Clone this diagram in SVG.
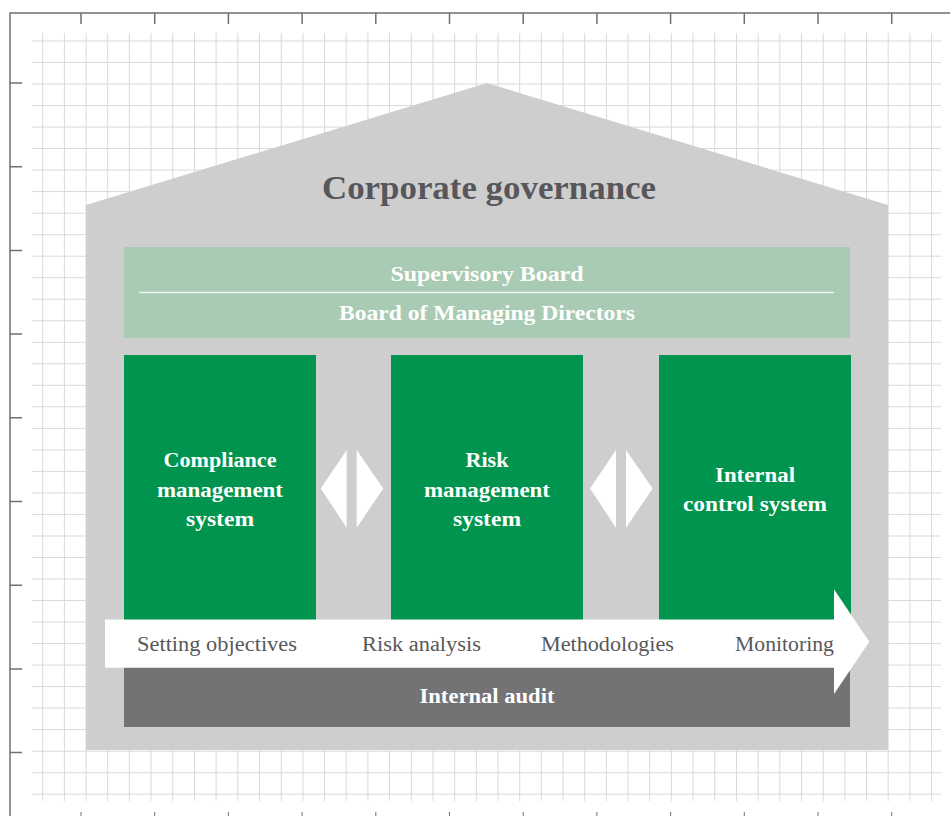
<svg xmlns="http://www.w3.org/2000/svg" width="950" height="816" viewBox="0 0 950 816">
  <style>
    .grid { stroke: #d9d9d9; stroke-width: 1; fill: none; }
    .frame { stroke: #707070; stroke-width: 1.5; fill: none; }
    .title { font-family: "Liberation Serif", "DejaVu Serif", serif; font-weight: bold; fill: #57575b; }
    .head { font-family: "Liberation Serif", "DejaVu Serif", serif; font-weight: bold; fill: #ffffff; text-anchor: middle; }
    .step { font-family: "Liberation Serif", "DejaVu Serif", serif; font-size: 20px; fill: #58585a; text-anchor: middle; }
    .pillar { fill: #00944e; }
  </style>

  <rect x="0" y="0" width="950" height="816" fill="#ffffff"/>

  <!-- background grid -->
  <g id="grid" class="grid">
    <path d="M42.7 33V801M64.4 33V801M86.1 33V801M107.7 33V801M129.4 33V801M151.1 33V801M172.8 33V801M194.5 33V801M216.1 33V801M237.8 33V801M259.5 33V801M281.2 33V801M302.9 33V801M324.5 33V801M346.2 33V801M367.9 33V801M389.6 33V801M411.3 33V801M432.9 33V801M454.6 33V801M476.3 33V801M498 33V801M519.7 33V801M541.3 33V801M563 33V801M584.7 33V801M606.4 33V801M628.1 33V801M649.7 33V801M671.4 33V801M693.1 33V801M714.8 33V801M736.5 33V801M758.1 33V801M779.8 33V801M801.5 33V801M823.2 33V801M844.9 33V801M866.5 33V801M888.2 33V801M909.9 33V801M931.6 33V801"/>
    <path d="M32 41H941M32 62.5H941M32 84H941M32 105.6H941M32 127.1H941M32 148.6H941M32 170.1H941M32 191.6H941M32 213.2H941M32 234.7H941M32 256.2H941M32 277.7H941M32 299.2H941M32 320.8H941M32 342.3H941M32 363.8H941M32 385.3H941M32 406.8H941M32 428.4H941M32 449.9H941M32 471.4H941M32 492.9H941M32 514.4H941M32 536H941M32 557.5H941M32 579H941M32 600.5H941M32 622H941M32 643.6H941M32 665.1H941M32 686.6H941M32 708.1H941M32 729.6H941M32 751.2H941M32 772.7H941M32 794.2H941"/>
  </g>

  <!-- page frame with ticks -->
  <g id="frame" class="frame">
    <path d="M10 816V13H950"/>
    <path d="M81 13V24M154.7 13V24M228.4 13V24M302.1 13V24M375.8 13V24M449.5 13V24M523.2 13V24M596.9 13V24M670.6 13V24M744.3 13V24M818 13V24M891.7 13V24"/>
    <path d="M10 83H22M10 166.7H22M10 250.4H22M10 334.1H22M10 417.8H22M10 501.5H22M10 585.2H22M10 668.9H22M10 752.6H22"/>
    <path d="M81 812V816M154.7 812V816M228.4 812V816M302.1 812V816M375.8 812V816M449.5 812V816M523.2 812V816M596.9 812V816M670.6 812V816M744.3 812V816M818 812V816M891.7 812V816" stroke-width="1"/>
  </g>

  <!-- house outline -->
  <g id="house">
    <polygon points="86,205 487,83 888,205 888,750 86,750" fill="#cececf"/>
    <text class="title" x="489" y="199" font-size="34" text-anchor="middle" textLength="334" lengthAdjust="spacingAndGlyphs">Corporate governance</text>
  </g>

  <!-- boards -->
  <g id="boards">
    <rect x="124" y="247" width="726" height="91" fill="#a9cbb3"/>
    <line x1="139" y1="292.5" x2="834" y2="292.5" stroke="#eef5ef" stroke-width="1.5"/>
    <text class="head" x="487" y="281" font-size="21" textLength="193" lengthAdjust="spacingAndGlyphs">Supervisory Board</text>
    <text class="head" x="487" y="320" font-size="21" textLength="296" lengthAdjust="spacingAndGlyphs">Board of Managing Directors</text>
  </g>

  <!-- pillars -->
  <g id="compliance">
    <rect class="pillar" x="124" y="355" width="192" height="265"/>
    <text class="head" x="220" y="467" font-size="20" textLength="113" lengthAdjust="spacingAndGlyphs">Compliance</text>
    <text class="head" x="220" y="497" font-size="20" textLength="126" lengthAdjust="spacingAndGlyphs">management</text>
    <text class="head" x="220" y="526" font-size="20" textLength="68" lengthAdjust="spacingAndGlyphs">system</text>
  </g>
  <g id="risk">
    <rect class="pillar" x="391" y="355" width="192" height="265"/>
    <text class="head" x="487" y="467" font-size="20" textLength="43" lengthAdjust="spacingAndGlyphs">Risk</text>
    <text class="head" x="487" y="497" font-size="20" textLength="126" lengthAdjust="spacingAndGlyphs">management</text>
    <text class="head" x="487" y="526" font-size="20" textLength="68" lengthAdjust="spacingAndGlyphs">system</text>
  </g>
  <g id="ics">
    <rect class="pillar" x="659" y="355" width="192" height="265"/>
    <text class="head" x="755" y="482" font-size="20" textLength="80" lengthAdjust="spacingAndGlyphs">Internal</text>
    <text class="head" x="755" y="511" font-size="20" textLength="144" lengthAdjust="spacingAndGlyphs">control system</text>
  </g>

  <!-- internal audit base -->
  <g id="audit">
    <rect x="124" y="666" width="726" height="61" fill="#737376"/>
    <text class="head" x="487" y="703" font-size="20" textLength="135" lengthAdjust="spacingAndGlyphs">Internal audit</text>
  </g>

  <!-- connectors: two-way links between pillars and the process arrow -->
  <g id="connectors" fill="#ffffff">
    <polygon points="346.7,450 320.7,488.5 346.7,527.7"/>
    <polygon points="356.7,450 383.3,488.5 356.7,527.7"/>
    <polygon points="616,450 590,488.5 616,527.7"/>
    <polygon points="626,450 652.7,488.5 626,527.7"/>
    <polygon points="105,619.5 834,619.5 834,589.3 869.3,641.7 834,694 834,667.7 105,667.7"/>
  </g>

  <!-- process steps -->
  <g id="steps">
    <text class="step" x="217" y="651" textLength="160" lengthAdjust="spacingAndGlyphs">Setting objectives</text>
    <text class="step" x="421.5" y="651" textLength="119" lengthAdjust="spacingAndGlyphs">Risk analysis</text>
    <text class="step" x="607.5" y="651" textLength="133" lengthAdjust="spacingAndGlyphs">Methodologies</text>
    <text class="step" x="784.5" y="651" textLength="99" lengthAdjust="spacingAndGlyphs">Monitoring</text>
  </g>
</svg>
